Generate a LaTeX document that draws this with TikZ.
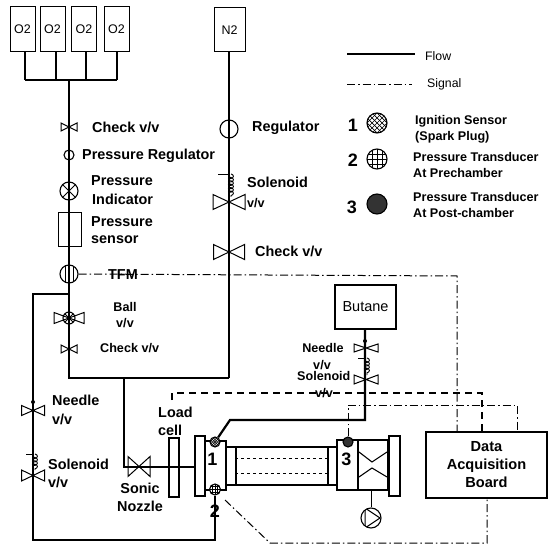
\documentclass[tikz,border=0pt]{standalone}
\usepackage{fontspec}
\setmainfont{Liberation Sans}
\usetikzlibrary{arrows.meta, positioning, calc, decorations.pathmorphing}
\tikzset{
    flow/.style={line width=2.8pt, black},
    thinflow/.style={line width=2.2pt, black},
    signal/.style={line width=1pt, dash pattern=on 8pt off 3pt on 1.5pt off 3pt, black},
    dashsig/.style={line width=1.3pt, dash pattern=on 7pt off 5pt, black},
    unit/.style={rectangle, draw=black, line width=1.2pt, align=center, inner sep=0pt},
    tank/.style={unit, line width=1pt, minimum width=25pt, minimum height=45pt, font=\fontsize{12.5}{14}\selectfont},
    part/.style={unit, line width=1.8pt},
    biglabel/.style={anchor=west, inner sep=0pt, font=\bfseries\fontsize{14.4}{16}\selectfont},
    smalllabel/.style={anchor=west, inner sep=0pt, font=\bfseries\fontsize{12.6}{14}\selectfont},
    plainlabel/.style={anchor=west, inner sep=0pt, font=\fontsize{12.3}{14}\selectfont},
    numlabel/.style={inner sep=0pt, font=\bfseries\fontsize{18}{18}\selectfont},
    ring/.style={circle, draw=black, line width=1.1pt, inner sep=0pt, minimum size=#1*2pt},
    xring/.style={ring=#1, path picture={
        \draw[line width=0.9pt] (path picture bounding box.south west) -- (path picture bounding box.north east);
        \draw[line width=0.9pt] (path picture bounding box.north west) -- (path picture bounding box.south east);}},
    hatchring/.style={ring=#1, path picture={
        \foreach \o in {-1.5,-1,-0.5,0,0.5,1,1.5} {
            \draw[shift={(path picture bounding box.center)}, line width=0.7pt] (\o*#1-#1,-#1) -- (\o*#1+#1,#1);
            \draw[shift={(path picture bounding box.center)}, line width=0.7pt] (\o*#1-#1,#1) -- (\o*#1+#1,-#1);
        }}},
    gridring/.style={ring=#1, path picture={
        \foreach \o in {-0.5,0,0.5} {
            \draw[shift={(path picture bounding box.center)}, line width=0.8pt] (\o*#1,-#1) -- (\o*#1,#1);
            \draw[shift={(path picture bounding box.center)}, line width=0.8pt] (-#1,\o*#1) -- (#1,\o*#1);
        }}},
    darkring/.style={ring=#1, fill=black!80},
    pics/valve/.style 2 args={code={
        \draw[draw=black, line width=1pt] (-#1,-#2) -- (#1,#2) -- (#1,-#2) -- (-#1,#2) -- cycle;
    }},
    solcoil/.style={line width=0.9pt, black, decorate, decoration={coil, aspect=0.6, segment length=3.4pt, amplitude=2.4pt}}
}
\begin{document}
\begin{tikzpicture}[x=1pt, y=-1pt]
    \useasboundingbox (0,0) rectangle (549,545);

    % gas supply
    \node[tank] (o2a) at (22.5,29.5) {O2};
    \node[tank] (o2b) at (52.5,29.5) {O2};
    \node[tank] (o2c) at (84,29.5) {O2};
    \node[tank] (o2d) at (116.5,29.5) {O2};
    \node[tank, minimum width=31pt, minimum height=44pt] (n2) at (229.5,30) {N2};
    \coordinate (busa) at (25,80);
    \coordinate (busb) at (56,80);
    \coordinate (busc) at (86,80);
    \coordinate (busd) at (117,80);
    \coordinate (busmid) at (69,80);
    \coordinate (o2end) at (69,378);
    \coordinate (n2end) at (229,378);
    \coordinate (loopa) at (69,294);
    \coordinate (loopb) at (33,294);
    \coordinate (loopc) at (33,540);
    \coordinate (nozzlea) at (124,378);
    \coordinate (nozzleb) at (124,467);

    % symbols on the oxygen line
    \pic at (69,127) {valve={8}{4}};
    \node[ring=5] (preg) at (69,155) {};
    \node[xring=9] (pind) at (69,191) {};
    \node[unit, line width=0.9pt, minimum width=23pt, minimum height=34pt] (psens) at (69.5,229) {};
    \node[ring=9, path picture={
        \draw[line width=0.8pt] ([xshift=-4pt]path picture bounding box.north) -- ([xshift=-4pt]path picture bounding box.south);
        \draw[line width=0.8pt] ([xshift=4pt]path picture bounding box.north) -- ([xshift=4pt]path picture bounding box.south);}] (tfm) at (69,274) {};
    \pic at (69,318) {valve={15}{5.5}};
    \node[xring=6] (ball) at (69,318) {};
    \pic at (69,349) {valve={8}{4}};

    % symbols on the nitrogen line
    \node[ring=9] (nreg) at (229,129) {};
    \pic at (229,202) {valve={16}{7.5}};
    \coordinate (ncoila) at (231,174);
    \coordinate (ncoilb) at (231,197);
    \coordinate (ntick) at (218,174);
    \pic at (229,252) {valve={15.5}{7.5}};

    % combustor
    \node[part, minimum width=10pt, minimum height=59pt] (loadcell) at (174,467.5) {};
    \node[part, minimum width=10pt, minimum height=60pt] (flange) at (200,466) {};
    \node[part, minimum width=21pt, minimum height=49pt] (prechamber) at (215.5,465.5) {};
    \node[part, line width=2.2pt, minimum width=111pt, minimum height=38pt] (chamber) at (281.5,466) {};
    \node[part, line width=2pt, minimum width=92pt, minimum height=38pt] (tube) at (282,466) {};
    \node[part, minimum width=21pt, minimum height=50pt] (postchamber) at (347.5,465) {};
    \node[part, line width=2pt, minimum width=30pt, minimum height=50pt] (mixer) at (373,465) {};
    \node[part, line width=2.2pt, minimum width=11pt, minimum height=60pt] (endflange) at (394.5,466) {};
    \coordinate (mixa) at (359,452);
    \coordinate (mixb) at (372,462);
    \coordinate (mixc) at (387,452);
    \coordinate (mixd) at (359,477);
    \coordinate (mixe) at (372,468);
    \coordinate (mixf) at (387,477);
    \draw[line width=1.1pt] (mixa) -- (mixb) -- (mixc);
    \draw[line width=1.1pt] (mixd) -- (mixe) -- (mixf);
    \draw[dashed, line width=0.8pt] (tube.west |- 0,458) -- (tube.east |- 0,458);
    \draw[dashed, line width=0.8pt] (tube.west |- 0,473) -- (tube.east |- 0,473);
    \node[ring=10, fill=white, path picture={
        \draw[shift={(path picture bounding box.center)}, line width=1pt] (-6,-10) -- (9,0) -- (-6,10) -- cycle;}] (pump) at (371,518) {};

    % butane feed
    \node[unit, line width=1.2pt, minimum width=61pt, minimum height=44pt, font=\fontsize{14.5}{16}\selectfont] (butane) at (365.5,307) {Butane};
    \coordinate (bend) at (365,420);
    \coordinate (bendb) at (230,420);
    \pic at (366,348) {valve={12}{4}};
    \pic at (366,379.5) {valve={12}{4.5}};
    \coordinate (bcoila) at (367,358);
    \coordinate (bcoilb) at (367,375);
    \coordinate (btick) at (358,358);

    % left loop valves
    \pic at (33,410.5) {valve={11.5}{5}};
    \pic at (33,475.5) {valve={11.5}{5.5}};
    \coordinate (lcoila) at (35,454);
    \coordinate (lcoilb) at (35,470);
    \coordinate (ltick) at (26,454);
    \pic at (139,466.5) {valve={11}{10}};

    % sensors
    \node[hatchring=5, fill=white] (spark) at (215,442) {};
    \node[gridring=5.5, fill=white] (pre) at (215,489.5) {};
    \node[darkring=5] (post) at (348,442) {};

    \node[unit, line width=2.2pt, minimum width=121pt, minimum height=66pt, font=\bfseries\fontsize{14.6}{18}\selectfont] (board) at (486.5,465) {Data\\Acquisition\\Board};

    % flow lines
    \draw[flow] (o2a.south -| busa) -- (busa);
    \draw[flow] (o2b.south -| busb) -- (busb);
    \draw[flow] (o2c.south -| busc) -- (busc);
    \draw[flow] (o2d.south -| busd) -- (busd);
    \draw[flow] (busa) -- (busd);
    \draw[flow] (busmid) -- (o2end) -- (n2end);
    \draw[flow] (n2.south -| n2end) -- (n2end);
    \draw[thinflow] (loopa) -- (loopb) -- (loopc) -- (loopc -| pre) -- (pre.south);
    \draw[thinflow] (nozzlea) -- (nozzleb) -- (flange.west |- nozzleb);
    \draw[thinflow] (butane.south -| bend) -- (bend) -- (bendb) -- (spark);
    \draw[line width=0.8pt] (mixer.south -| pump) -- (pump.north);

    % coils
    \draw[solcoil] (ncoila) -- (ncoilb);
    \draw[line width=0.9pt] (ntick) -- (ntick -| n2end);
    \draw[solcoil] (bcoila) -- (bcoilb);
    \draw[line width=0.9pt] (btick) -- (btick -| bend);
    \draw[solcoil] (lcoila) -- (lcoilb);
    \draw[line width=0.9pt] (ltick) -- (ltick -| loopb);
    \fill (33,402) circle (2pt);
    \fill (365,341) circle (2pt);

    % signal lines
    \coordinate (siga) at (457,276);
    \coordinate (sigb) at (172,400);
    \coordinate (sigc) at (172,393);
    \coordinate (sigd) at (482,393);
    \coordinate (sige) at (348,405);
    \coordinate (sigf) at (517,405);
    \coordinate (sigg) at (225,500);
    \coordinate (sigh) at (270,543);
    \coordinate (sigi) at (487,543);
    \draw[signal] (tfm.east) -- (siga) -- (siga |- board.north);
    \draw[dashsig] (sigb) -- (sigc) -- (sigd) -- (sigd |- board.north);
    \draw[signal] (post.north) -- (sige) -- (sigf) -- (sigf |- board.north);
    \draw[signal] (sigg) -- (sigh) -- (sigi) -- (sigi |- board.south);

    % labels
    \node[biglabel] (lcheckb) at (92,127) {Check v/v};
    \node[biglabel] (lpreg) at (82,156) {Pressure Regulator};
    \node[biglabel] (lpind) at (91,181) {Pressure};
    \node[biglabel] (lpindb) at (92,199) {Indicator};
    \node[biglabel] (lsens) at (91,222) {Pressure};
    \node[biglabel] (lsensb) at (91,240) {sensor};
    \node[biglabel] (ltfm) at (108,275) {TFM};
    \node[biglabel] (lnreg) at (252,128) {Regulator};
    \node[biglabel] (lnsol) at (247,182) {Solenoid};
    \node[biglabel, font=\bfseries\fontsize{12.6}{14}\selectfont] (lnsolb) at (247,203) {v/v};
    \node[biglabel] (lncheck) at (255,251) {Check v/v};
    \node[smalllabel, anchor=center] (lball) at (125,307) {Ball};
    \node[smalllabel, anchor=center] (lballb) at (125,323) {v/v};
    \node[smalllabel] (lcheckc) at (100,348) {Check v/v};
    \node[biglabel] (lneedle) at (52,400) {Needle};
    \node[biglabel] (lneedleb) at (52,419) {v/v};
    \node[biglabel] (lsol) at (48,464) {Solenoid};
    \node[biglabel] (lsolb) at (48,482) {v/v};
    \node[biglabel, anchor=center] (lsonic) at (140,488) {Sonic};
    \node[biglabel, anchor=center] (lsonicb) at (140,506) {Nozzle};
    \node[biglabel] (lload) at (158,412) {Load};
    \node[biglabel] (lloadb) at (158,430) {cell};
    \node[smalllabel, anchor=center] (lbneed) at (323,348) {Needle};
    \node[smalllabel, anchor=center] (lbneedb) at (322,365) {v/v};
    \node[smalllabel] (lbsol) at (297,376) {Solenoid};
    \node[smalllabel, anchor=center] (lbsolb) at (324,393) {v/v};
    \node[numlabel] (nma) at (212.5,459) {1};
    \node[numlabel] (nmb) at (215,511) {2};
    \node[numlabel] (nmc) at (346.5,459) {3};

    % legend
    \coordinate (flowa) at (347,54);
    \coordinate (flowb) at (415,54);
    \coordinate (signa) at (347,85);
    \coordinate (signb) at (412,85);
    \draw[flow, line width=2pt] (flowa) -- (flowb);
    \draw[signal] (signa) -- (signb);
    \node[plainlabel] (lflow) at (425,56) {Flow};
    \node[plainlabel] (lsignal) at (427,84) {Signal};
    \node[numlabel] (keya) at (353,125) {1};
    \node[numlabel] (keyb) at (353,160) {2};
    \node[numlabel] (keyc) at (352,207) {3};
    \node[hatchring=10] (syma) at (377,123) {};
    \node[gridring=10] (symb) at (377,159) {};
    \node[darkring=10] (symc) at (377,204) {};
    \node[smalllabel] (keytexta) at (415,121) {Ignition Sensor};
    \node[smalllabel] (keytextb) at (415,137) {(Spark Plug)};
    \node[smalllabel] (keytextc) at (413,157) {Pressure Transducer};
    \node[smalllabel] (keytextd) at (413,173) {At  Prechamber};
    \node[smalllabel] (keytexte) at (413,197) {Pressure Transducer};
    \node[smalllabel] (keytextf) at (413,213) {At Post-chamber};
\end{tikzpicture}
\end{document}
